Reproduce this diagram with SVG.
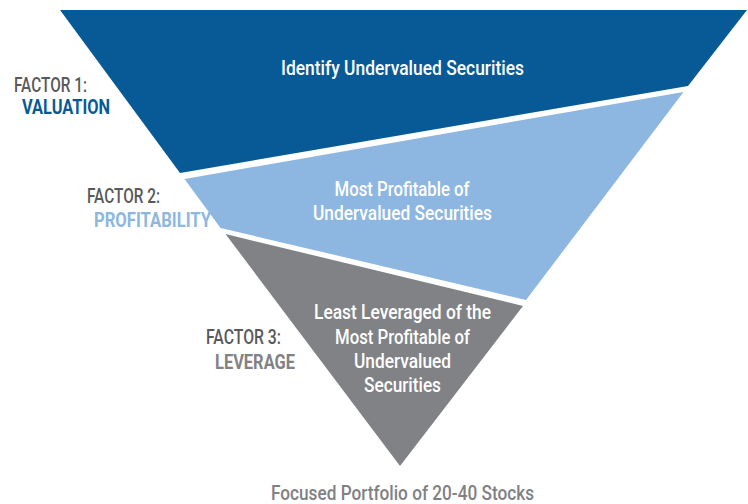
<svg xmlns="http://www.w3.org/2000/svg" width="748" height="504" viewBox="0 0 748 504">
<style>
text{font-family:Roboto,"Liberation Sans",sans-serif;}
.in{fill:#ffffff;font-size:19.5px;font-weight:500;text-anchor:middle;}
.fac{fill:#58595b;font-size:19.5px;font-weight:500;}
.nm{font-size:19.5px;font-weight:700;}
.bot{fill:#808184;font-size:19.5px;font-weight:500;text-anchor:middle;}
</style>
<rect width="748" height="504" fill="#ffffff"/>
<g id="stage1">
<polygon points="60,10 747,10 688,86 180,173" fill="#085a97"/>
<text class="in" x="402.5" y="75" textLength="243" lengthAdjust="spacingAndGlyphs">Identify Undervalued Securities</text>
</g>
<g id="stage2">
<polygon points="184.5,179 683.5,92 526,300 220.5,228" fill="#8db6e0"/>
<text class="in" x="402" y="196" textLength="135" lengthAdjust="spacingAndGlyphs">Most Profitable of</text>
<text class="in" x="402.5" y="220" textLength="179" lengthAdjust="spacingAndGlyphs">Undervalued Securities</text>
</g>
<g id="stage3">
<polygon points="225.5,234 523,306 400,466" fill="#818285"/>
<text class="in" x="402.5" y="319" textLength="177" lengthAdjust="spacingAndGlyphs">Least Leveraged of the</text>
<text class="in" x="402.5" y="344" textLength="135" lengthAdjust="spacingAndGlyphs">Most Profitable of</text>
<text class="in" x="402.5" y="368" textLength="97" lengthAdjust="spacingAndGlyphs">Undervalued</text>
<text class="in" x="402.5" y="392" textLength="77" lengthAdjust="spacingAndGlyphs">Securities</text>
</g>
<g id="factor1">
<text class="fac" x="14" y="92" textLength="73" lengthAdjust="spacingAndGlyphs">FACTOR 1:</text>
<text class="nm" x="22" y="114" fill="#085a97" textLength="88" lengthAdjust="spacingAndGlyphs">VALUATION</text>
</g>
<g id="factor2">
<text class="fac" x="87" y="203" textLength="73" lengthAdjust="spacingAndGlyphs">FACTOR 2:</text>
<text class="nm" x="94" y="227" fill="#8db6e0" textLength="117" lengthAdjust="spacingAndGlyphs">PROFITABILITY</text>
</g>
<g id="factor3">
<text class="fac" x="206" y="344" textLength="75" lengthAdjust="spacingAndGlyphs">FACTOR 3:</text>
<text class="nm" x="215" y="369" fill="#818285" textLength="80" lengthAdjust="spacingAndGlyphs">LEVERAGE</text>
</g>
<g id="output">
<text class="bot" x="402.5" y="500" textLength="263" lengthAdjust="spacingAndGlyphs">Focused Portfolio of 20-40 Stocks</text>
</g>
<g id="connectors"></g>
</svg>
